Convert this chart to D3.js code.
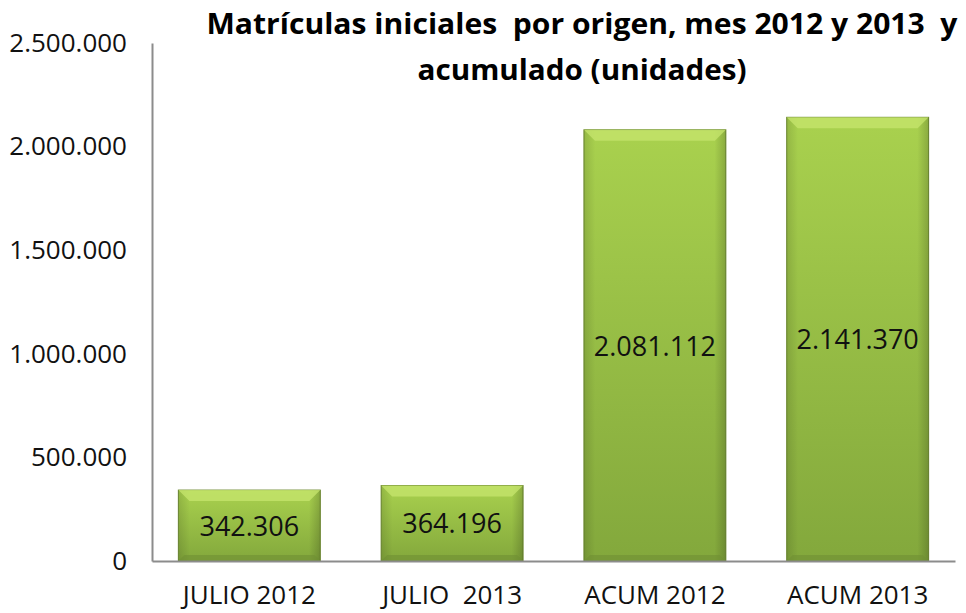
<!DOCTYPE html>
<html>
<head>
<meta charset="utf-8">
<script src="https://cdn.jsdelivr.net/npm/d3@7"></script>
<style>
  body { margin: 0; background: #fff; }
  svg { display: block; font-family: "Open Sans", "Liberation Sans", sans-serif; }
</style>
</head>
<body>
<svg id="drawing_region"></svg>
<script>
const categories = ["JULIO 2012", "JULIO  2013", "ACUM 2012", "ACUM 2013"];
const values = [342306, 364196, 2081112, 2141370];
const yTicks = [0, 500000, 1000000, 1500000, 2000000, 2500000];
const titleLines = ["Matrículas iniciales  por origen, mes 2012 y 2013  y", "acumulado (unidades)"];

const width = 966, height = 613;
const margin = {top: 43, right: 11, bottom: 52, left: 152};

const svg = d3.select("#drawing_region")
    .attr("width", width)
    .attr("height", height);

const fmt = v => d3.format(",")(v).replace(/,/g, ".");

const xscale = d3.scaleBand()
    .domain(categories)
    .range([margin.left, width - margin.right])
    .paddingInner(0.3)
    .paddingOuter(0.13);

const yscale = d3.scaleLinear()
    .domain([0, 2500000])
    .range([height - margin.bottom, margin.top]);

// gradients
const defs = svg.append("defs");
const grad = defs.append("linearGradient")
    .attr("id", "barfill").attr("x1", 0).attr("y1", 0).attr("x2", 0).attr("y2", 1);
grad.append("stop").attr("offset", "0%").attr("stop-color", "#a9d14e");
grad.append("stop").attr("offset", "100%").attr("stop-color", "#83a83c");

const side = defs.append("linearGradient")
    .attr("id", "sidefill").attr("x1", 0).attr("y1", 0).attr("x2", 1).attr("y2", 0);
side.append("stop").attr("offset", "0%").attr("stop-color", "#000").attr("stop-opacity", 0.12);
side.append("stop").attr("offset", "8%").attr("stop-color", "#000").attr("stop-opacity", 0);
side.append("stop").attr("offset", "92%").attr("stop-color", "#000").attr("stop-opacity", 0);
side.append("stop").attr("offset", "100%").attr("stop-color", "#000").attr("stop-opacity", 0.18);

// y axis
const yaxis = d3.axisLeft(yscale)
    .tickValues(yTicks)
    .tickFormat(fmt)
    .tickSize(0)
    .tickPadding(25);

const yg = svg.append("g")
    .attr("transform", `translate(${margin.left},0)`)
    .call(yaxis);
yg.select(".domain").attr("stroke", "#8c8c8c").attr("stroke-width", 2);
yg.selectAll("text")
    .attr("font-size", 26)
    .attr("fill", "#111")
    .attr("font-family", "\"Open Sans\", sans-serif");

// bars
const bars = svg.append("g").selectAll("g")
    .data(values)
    .join("g");

bars.append("rect")
    .attr("x", (d, i) => xscale(categories[i]))
    .attr("y", d => yscale(d))
    .attr("width", xscale.bandwidth())
    .attr("height", d => yscale(0) - yscale(d))
    .attr("fill", "url(#barfill)")
    .attr("stroke", "#6d8a30")
    .attr("stroke-width", 1);

bars.append("rect")
    .attr("x", (d, i) => xscale(categories[i]))
    .attr("y", d => yscale(d))
    .attr("width", xscale.bandwidth())
    .attr("height", d => yscale(0) - yscale(d))
    .attr("fill", "url(#sidefill)");

// top bevel
const bev = 11;
bars.append("path")
    .attr("d", (d, i) => {
        const x0 = xscale(categories[i]), x1 = x0 + xscale.bandwidth(), y0 = yscale(d);
        return `M${x0},${y0} L${x1},${y0} L${x1 - bev},${y0 + bev} L${x0 + bev},${y0 + bev} Z`;
    })
    .attr("fill", "#c4e46c")
    .attr("opacity", 0.8);

// bottom bevel
bars.append("path")
    .attr("d", (d, i) => {
        const x0 = xscale(categories[i]), x1 = x0 + xscale.bandwidth(), y0 = yscale(0);
        return `M${x0},${y0} L${x1},${y0} L${x1 - 6},${y0 - 6} L${x0 + 6},${y0 - 6} Z`;
    })
    .attr("fill", "#6f8f33")
    .attr("opacity", 0.6);

// value labels
bars.append("text")
    .attr("x", (d, i) => xscale(categories[i]) + xscale.bandwidth() / 2)
    .attr("y", d => (yscale(d) + yscale(0)) / 2 + 3)
    .attr("text-anchor", "middle")
    .attr("dominant-baseline", "middle")
    .attr("font-size", 27)
    .attr("fill", "#111")
    .text(d => fmt(d));

// x axis
const xaxis = d3.axisBottom(xscale).tickSize(0).tickPadding(25);
const xg = svg.append("g")
    .attr("transform", `translate(0,${yscale(0)})`)
    .call(xaxis);
xg.select(".domain").attr("stroke", "#8c8c8c").attr("stroke-width", 2);
xg.selectAll("text")
    .attr("font-size", 26)
    .attr("fill", "#111")
    .attr("font-family", "\"Open Sans\", sans-serif")
    .style("white-space", "pre");

// title
const titleWidths = [751, 329];
svg.append("g").selectAll("text")
    .data(titleLines)
    .join("text")
    .attr("x", 582)
    .attr("y", (d, i) => 34 + i * 46)
    .attr("text-anchor", "middle")
    .attr("font-size", 28)
    .attr("font-weight", "bold")
    .attr("font-family", "\"Open Sans\", sans-serif")
    .attr("fill", "#000")
    .attr("textLength", (d, i) => titleWidths[i])
    .attr("lengthAdjust", "spacingAndGlyphs")
    .style("white-space", "pre")
    .text(d => d);
</script>
</body>
</html>
